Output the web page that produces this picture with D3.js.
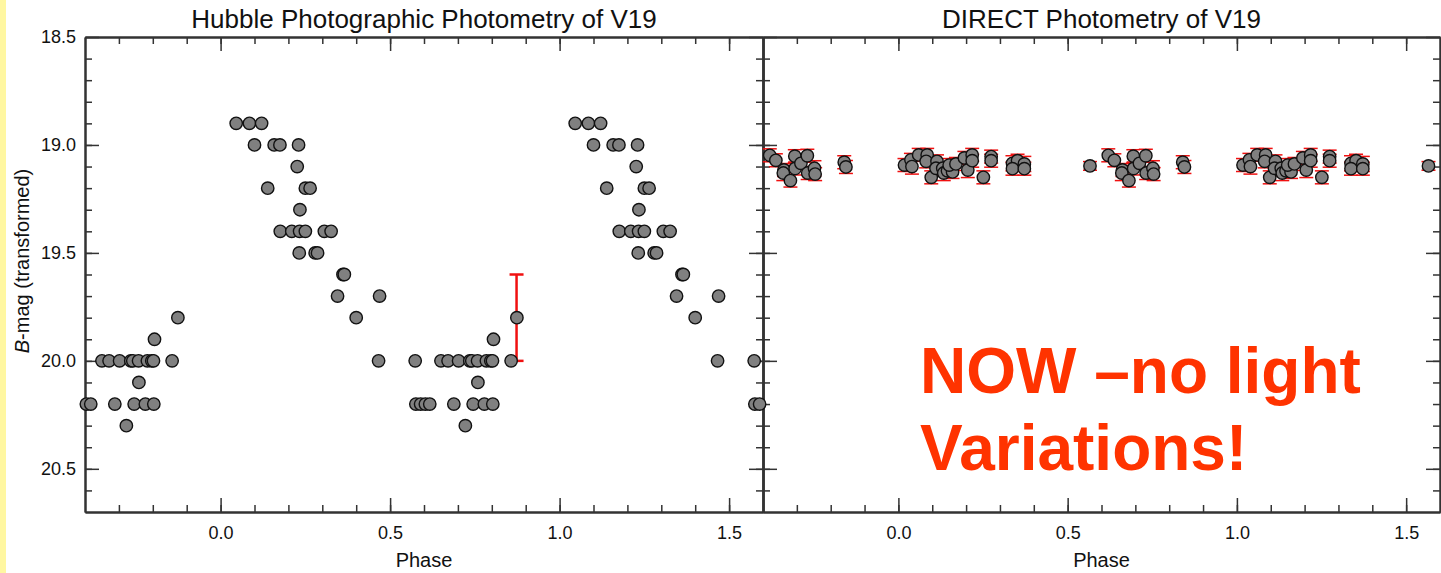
<!DOCTYPE html>
<html>
<head>
<meta charset="utf-8">
<script src="https://cdn.jsdelivr.net/npm/d3@7"></script>
<style>
html,body{margin:0;padding:0;background:#fff;}
svg{display:block;font-family:"Liberation Sans",Arial,sans-serif;}
</style>
</head>
<body>
<svg id="chart" width="1441" height="573"></svg>
<script>
// ---- data (phase in [0,1); plotted also at phase-1 and phase+1) ----
const leftPhase = [0.046,0.085,0.121, 0.100,0.158,0.175,0.230, 0.226, 0.139,0.250,0.264, 0.234,
  0.176,0.210,0.233,0.250,0.306,0.326, 0.232,0.279,0.286, 0.361,0.365, 0.345,0.469,
  0.400,0.874, 0.805,
  0.466,0.574,0.650,0.671,0.702,0.735,0.741,0.758,0.784,0.797,0.802,0.857,
  0.759,
  0.576,0.590,0.604,0.617,0.688,0.745,0.778,0.803,
  0.722];
const leftMag = [18.9,18.9,18.9, 19.0,19.0,19.0,19.0, 19.1, 19.2,19.2,19.2, 19.3,
  19.4,19.4,19.4,19.4,19.4,19.4, 19.5,19.5,19.5, 19.6,19.6, 19.7,19.7,
  19.8,19.8, 19.9,
  20.0,20.0,20.0,20.0,20.0,20.0,20.0,20.0,20.0,20.0,20.0,20.0,
  20.1,
  20.2,20.2,20.2,20.2,20.2,20.2,20.2,20.2,
  20.3];
// single error bar drawn in the Hubble panel
const barPhase = [0.873];
const barLow = [19.6];
const barHigh = [20.0];

const rightPhase = [0.018,0.037,0.040,0.060,0.085,0.082,0.097,0.114,0.111,0.131,0.134,0.145,0.160,
  0.150,0.170,0.195,0.205,0.218,0.218,0.251,0.274,0.274,0.337,0.352,0.372,0.337,0.372,
  0.566,0.620,0.638,0.662,0.660,0.681,0.694,0.695,0.712,0.731,0.732,0.752,0.754,0.840,0.845];
const rightMag = [19.093,19.069,19.100,19.046,19.046,19.076,19.150,19.076,19.108,19.108,19.130,19.120,19.125,
  19.093,19.088,19.060,19.116,19.046,19.073,19.150,19.054,19.073,19.085,19.073,19.088,19.110,19.110,
  19.097,19.048,19.071,19.116,19.130,19.165,19.052,19.109,19.085,19.050,19.130,19.108,19.135,19.080,19.102];
const rightErr = [0.030,0.030,0.035,0.030,0.030,0.030,0.030,0.030,0.035,0.030,0.035,0.030,0.030,
  0.030,0.030,0.030,0.035,0.030,0.030,0.030,0.030,0.030,0.035,0.030,0.035,0.030,0.030,
  0.020,0.030,0.030,0.030,0.035,0.030,0.030,0.030,0.030,0.030,0.030,0.035,0.030,0.030,0.030];

const xDomain = [-0.4, 1.6];
const yDomain = [18.5, 20.7];
const xMajor = [0.0, 0.5, 1.0, 1.5];
const xMinor = d3.range(-3, 16).map(d => d / 10);
const yMajor = [18.5, 19.0, 19.5, 20.0, 20.5];
const yMinor = d3.range(186, 207).map(d => d / 10);
const titles = ["Hubble Photographic Photometry of V19", "DIRECT Photometry of V19"];

(function () {
// ---- layout ----
const svg = d3.select("#chart");
svg.append("rect").attr("x",0).attr("y",0).attr("width",1441).attr("height",573).attr("fill","#fff");
svg.append("rect").attr("x",0).attr("y",0).attr("width",6).attr("height",573).attr("fill","#fff7a1");

const yTop = 37, yBottom = 512;
const y = d3.scaleLinear().domain(yDomain).range([yTop, yBottom]);
const xL = d3.scaleLinear().domain(xDomain).range([85, 763]);
const xR = d3.scaleLinear().domain(xDomain).range([763, 1440]);
const fmt = d3.format(".1f");
const axisColor = "#333";

function styleAxis(g, labels) {
  g.select(".domain").attr("stroke", axisColor).attr("stroke-width", 2);
  g.selectAll(".tick line").attr("stroke", axisColor).attr("stroke-width", 1.5);
  g.selectAll(".tick text").attr("fill", "#111").attr("font-size", 18)
   .attr("font-family", "Liberation Sans, Arial, sans-serif");
  if (!labels) g.selectAll(".tick text").remove();
}

function drawFrame(x, showYLabels, title) {
  const [x0, x1] = x.range();
  const addAxis = (axis, tf, labels) => {
    const g = svg.append("g").attr("transform", tf).call(axis);
    styleAxis(g, labels);
    return g;
  };
  addAxis(d3.axisBottom(x).tickValues(xMinor).tickSize(-7).tickSizeOuter(0), `translate(0,${yBottom})`, false);
  addAxis(d3.axisBottom(x).tickValues(xMajor).tickSize(-14).tickSizeOuter(0).tickPadding(14).tickFormat(fmt), `translate(0,${yBottom})`, true);
  addAxis(d3.axisTop(x).tickValues(xMinor).tickSize(-7).tickSizeOuter(0), `translate(0,${yTop})`, false);
  addAxis(d3.axisTop(x).tickValues(xMajor).tickSize(-14).tickSizeOuter(0), `translate(0,${yTop})`, false);
  addAxis(d3.axisLeft(y).tickValues(yMinor).tickSize(-7).tickSizeOuter(0), `translate(${x0},0)`, false);
  addAxis(d3.axisLeft(y).tickValues(yMajor).tickSize(-14).tickSizeOuter(0).tickPadding(9).tickFormat(fmt), `translate(${x0},0)`, showYLabels);
  addAxis(d3.axisRight(y).tickValues(yMinor).tickSize(-7).tickSizeOuter(0), `translate(${x1},0)`, false);
  addAxis(d3.axisRight(y).tickValues(yMajor).tickSize(-14).tickSizeOuter(0), `translate(${x1},0)`, false);

  svg.append("text").attr("x", (x0 + x1) / 2).attr("y", 28)
    .attr("text-anchor", "middle").attr("font-size", 26).attr("fill", "#111").text(title);
  svg.append("text").attr("x", (x0 + x1) / 2).attr("y", 567)
    .attr("text-anchor", "middle").attr("font-size", 20).attr("fill", "#111").text("Phase");
}

function copies(phases, mags, extra) {
  const out = [];
  phases.forEach((p, i) => {
    [-1, 0, 1].forEach(k => {
      const q = p + k;
      if (q >= xDomain[0] && q <= xDomain[1]) out.push({p: q, m: mags[i], e: extra ? extra[i] : 0});
    });
  });
  return out;
}

drawFrame(xL, true, titles[0]);
drawFrame(xR, false, titles[1]);

// ---- left panel marks ----
const gL = svg.append("g");
barPhase.forEach((p, i) => {
  const cx = xL(p);
  gL.append("line").attr("x1", cx).attr("x2", cx).attr("y1", y(barLow[i])).attr("y2", y(barHigh[i]))
    .attr("stroke", "#f01010").attr("stroke-width", 2.5);
  [barLow[i], barHigh[i]].forEach(v => gL.append("line").attr("x1", cx - 7).attr("x2", cx + 7)
    .attr("y1", y(v)).attr("y2", y(v)).attr("stroke", "#f01010").attr("stroke-width", 2.5));
});
gL.selectAll("circle").data(copies(leftPhase, leftMag)).join("circle")
  .attr("cx", d => xL(d.p)).attr("cy", d => y(d.m)).attr("r", 6.2)
  .attr("fill", "#808080").attr("stroke", "#111").attr("stroke-width", 1.4);

// ---- right panel marks ----
const rData = copies(rightPhase, rightMag, rightErr);
const gR = svg.append("g");
const eb = gR.append("g").attr("stroke", "#f01010").attr("stroke-width", 1.5);
rData.forEach(d => {
  const cx = xR(d.p);
  eb.append("line").attr("x1", cx).attr("x2", cx).attr("y1", y(d.m - d.e)).attr("y2", y(d.m + d.e));
  eb.append("line").attr("x1", cx - 7).attr("x2", cx + 7).attr("y1", y(d.m - d.e)).attr("y2", y(d.m - d.e));
  eb.append("line").attr("x1", cx - 7).attr("x2", cx + 7).attr("y1", y(d.m + d.e)).attr("y2", y(d.m + d.e));
});
gR.selectAll("circle").data(rData).join("circle")
  .attr("cx", d => xR(d.p)).attr("cy", d => y(d.m)).attr("r", 6.2)
  .attr("fill", "#808080").attr("stroke", "#111").attr("stroke-width", 1.4);

// ---- y axis label ----
const yl = svg.append("text").attr("transform", "translate(29,261) rotate(-90)")
  .attr("text-anchor", "middle").attr("font-size", 20).attr("fill", "#111");
yl.append("tspan").attr("font-style", "italic").text("B");
yl.append("tspan").text("-mag (transformed)");

// ---- annotation ----
const ann = svg.append("text").attr("font-size", 64).attr("font-weight", "bold").attr("fill", "#ff3300");
ann.append("tspan").attr("x", 920).attr("y", 393).text("NOW \u2013no light");
ann.append("tspan").attr("x", 920).attr("y", 470).text("Variations!");
})();
</script>
</body>
</html>
